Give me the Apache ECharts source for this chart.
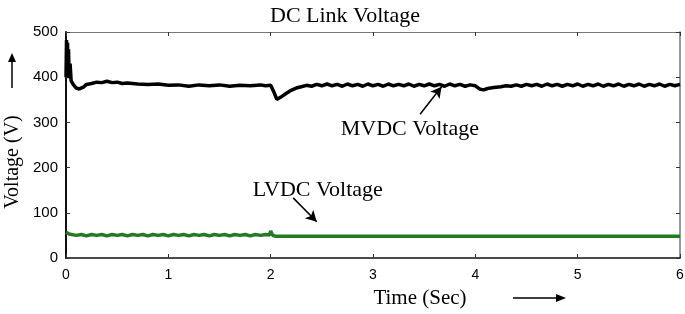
<!DOCTYPE html>
<html>
<head>
<meta charset="utf-8">
<script src="https://cdn.jsdelivr.net/npm/echarts@6/dist/echarts.min.js"></script>
<style>
  html, body { margin: 0; padding: 0; background: #fff; }
  #chart { width: 685px; height: 314px; }
</style>
</head>
<body>
<div id="chart"></div>
<script>
// [time (s), voltage (V)]
const mvdc = [
  [0, 400], [0.005, 482], [0.01, 420], [0.015, 476], [0.02, 405], [0.025, 462], [0.03, 398],
  [0.04, 430], [0.05, 392], [0.07, 384], [0.1, 376], [0.13, 374], [0.17, 378], [0.2, 384],
  [0.25, 386], [0.3, 389], [0.35, 388], [0.4, 391], [0.45, 388], [0.5, 389], [0.55, 386],
  [0.6, 387], [0.7, 385], [0.8, 384], [0.9, 385], [1.0, 382], [1.1, 383], [1.2, 380],
  [1.3, 383], [1.4, 381], [1.5, 383], [1.6, 380], [1.7, 382], [1.8, 381], [1.9, 383],
  [1.95, 381], [2.0, 382], [2.03, 368], [2.06, 351], [2.1, 356], [2.15, 364], [2.2, 371],
  [2.25, 376], [2.3, 379], [2.35, 382], [2.4, 380], [2.45, 384], [2.5, 381], [2.55, 385],
  [2.6, 381], [2.65, 384], [2.7, 380], [2.75, 385], [2.8, 381], [2.85, 384], [2.9, 380],
  [2.95, 385], [3.0, 381], [3.05, 384], [3.1, 380], [3.15, 385], [3.2, 381], [3.25, 384],
  [3.3, 381], [3.35, 385], [3.4, 380], [3.45, 384], [3.5, 381], [3.55, 385], [3.6, 381],
  [3.65, 384], [3.7, 380], [3.75, 385], [3.8, 381], [3.85, 384], [3.9, 380], [3.95, 383],
  [4.0, 381], [4.04, 374], [4.08, 372], [4.12, 375], [4.18, 377], [4.25, 379], [4.3, 381],
  [4.35, 380], [4.4, 383], [4.45, 380], [4.5, 384], [4.55, 381], [4.6, 384], [4.65, 380],
  [4.7, 385], [4.75, 381], [4.8, 384], [4.85, 380], [4.9, 384], [4.95, 381], [5.0, 385],
  [5.05, 380], [5.1, 384], [5.15, 381], [5.2, 385], [5.25, 380], [5.3, 384], [5.35, 381],
  [5.4, 385], [5.45, 380], [5.5, 384], [5.55, 381], [5.6, 385], [5.65, 380], [5.7, 384],
  [5.75, 381], [5.8, 385], [5.85, 380], [5.9, 384], [5.95, 381], [6.0, 384]
];
const lvdc = [
  [0, 57], [0.03, 53], [0.1, 50], [0.15, 52], [0.2, 49], [0.25, 52], [0.3, 50], [0.35, 52],
  [0.4, 49], [0.45, 52], [0.5, 50], [0.55, 52], [0.6, 49], [0.65, 52], [0.7, 50], [0.75, 52],
  [0.8, 49], [0.85, 52], [0.9, 50], [0.95, 52], [1.0, 49], [1.05, 52], [1.1, 50], [1.15, 52],
  [1.2, 49], [1.25, 52], [1.3, 50], [1.35, 52], [1.4, 49], [1.45, 52], [1.5, 50], [1.55, 52],
  [1.6, 49], [1.65, 52], [1.7, 50], [1.75, 52], [1.8, 49], [1.85, 52], [1.9, 50], [1.95, 52],
  [1.99, 51], [2.0, 60], [2.02, 50], [2.05, 48], [3, 48], [4, 48], [5, 48], [6, 48]
];
const xTicks = [0, 1, 2, 3, 4, 5, 6];
const yTicks = [0, 100, 200, 300, 400, 500];
// [text, text x, text y, arrow tail x, tail y, head x, head y] in data units
const mvdcNote = ['MVDC Voltage', 3.36, 284, 3.46, 318, 3.67, 379];
const lvdcNote = ['LVDC Voltage', 2.46, 151, 2.22, 133, 2.45, 80];

const serif = 'Liberation Serif';
const sans = 'Liberation Sans';

const chart = echarts.init(document.getElementById('chart'));

function note(n) {
  return {
    markPoint: {
      symbol: 'circle', symbolSize: 0, silent: true, animation: false,
      label: { show: true, position: 'inside', formatter: n[0], color: '#000', fontFamily: serif, fontSize: 22 },
      data: [{ coord: [n[1], n[2]] }]
    },
    markLine: {
      silent: true, animation: false,
      symbol: ['none', 'arrow'], symbolSize: [9, 11],
      label: { show: false },
      lineStyle: { color: '#000', width: 1.5, type: 'solid' },
      data: [[{ coord: [n[3], n[4]] }, { coord: [n[5], n[6]] }]]
    }
  };
}

const axisX = (pos, show) => ({
  type: 'value', position: pos, min: 0, max: 6, interval: 1,
  axisLine: { show: true, onZero: false, lineStyle: { color: show ? '#111' : '#777', width: show ? 1.5 : 1 } },
  axisTick: { show: true, inside: true, length: 4, lineStyle: { color: '#333' } },
  axisLabel: { show: show, color: '#000', fontFamily: sans, fontSize: 14, margin: 10,
    formatter: v => xTicks.includes(v) ? String(v) : '' },
  splitLine: { show: false }
});
const axisY = (pos, show) => ({
  type: 'value', position: pos, min: 0, max: 500, interval: 100,
  axisLine: { show: true, onZero: false, lineStyle: { color: show ? '#111' : '#777', width: show ? 2 : 1.5 } },
  axisTick: { show: true, inside: true, length: 4, lineStyle: { color: '#333' } },
  axisLabel: { show: show, color: '#000', fontFamily: sans, fontSize: 15, margin: 8,
    formatter: v => yTicks.includes(v) ? String(v) : '' },
  splitLine: { show: false }
});

chart.setOption({
  animation: false,
  title: {
    text: 'DC Link Voltage', left: 265, top: 0,
    textStyle: { fontFamily: serif, fontSize: 22, fontWeight: 'normal', color: '#000' }
  },
  grid: { left: 66, right: 5, top: 32, bottom: 56, outerBoundsMode: 'none' },
  xAxis: [axisX('bottom', true), axisX('top', false)],
  yAxis: [axisY('left', true), axisY('right', false)],
  series: [
    Object.assign({
      name: 'MVDC Voltage', type: 'line', data: mvdc, showSymbol: false,
      lineStyle: { color: '#000', width: 3.5 }, z: 3
    }, note(mvdcNote)),
    Object.assign({
      name: 'LVDC Voltage', type: 'line', data: lvdc, showSymbol: false,
      lineStyle: { color: '#237a23', width: 3.5 }, z: 2
    }, note(lvdcNote))
  ],
  graphic: [
    { type: 'text', x: 13, y: 162, rotation: Math.PI / 2,
      style: { text: 'Voltage (V)', fontFamily: serif, fontSize: 20, fill: '#000', align: 'center', verticalAlign: 'middle' } },
    { type: 'line', shape: { x1: 12, y1: 88, x2: 12, y2: 60 }, style: { stroke: '#000', lineWidth: 1.5 } },
    { type: 'polygon', shape: { points: [[12, 53], [8, 62], [16, 62]] }, style: { fill: '#000' } },
    { type: 'text', x: 420, y: 298,
      style: { text: 'Time (Sec)', fontFamily: serif, fontSize: 21, fill: '#000', align: 'center', verticalAlign: 'middle' } },
    { type: 'line', shape: { x1: 513, y1: 298, x2: 558, y2: 298 }, style: { stroke: '#000', lineWidth: 1.5 } },
    { type: 'polygon', shape: { points: [[566, 298], [556, 294], [556, 302]] }, style: { fill: '#000' } }
  ]
});
</script>
</body>
</html>
